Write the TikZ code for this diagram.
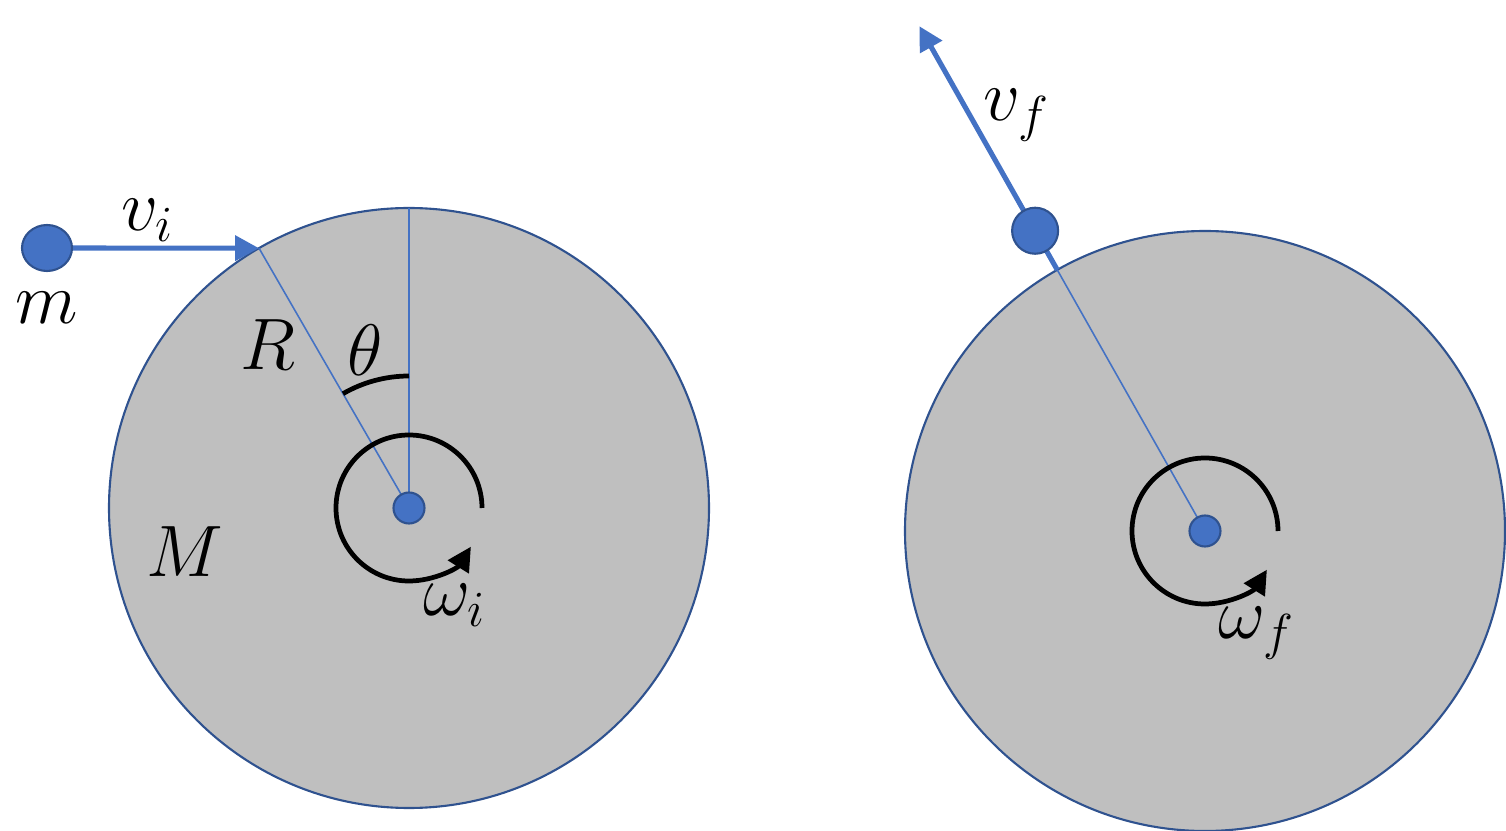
\documentclass[tikz,border=0pt]{standalone}
\usepackage{tikz}
\usetikzlibrary{shapes,arrows.meta,positioning,calc}
\definecolor{ballblue}{HTML}{4472C4}
\definecolor{rimblue}{HTML}{2F528F}
\definecolor{diskgray}{HTML}{BFBFBF}

\begin{document}
\begin{tikzpicture}[
  disk/.style={draw=rimblue, line width=0.6pt, fill=diskgray},
  ball/.style={circle, draw=rimblue, line width=0.6pt, fill=ballblue, inner sep=0pt},
  radius line/.style={draw=ballblue, line width=0.45pt},
  velocity/.style={draw=ballblue, line width=1.45pt, -{Triangle[length=6.8pt,width=7pt]}},
  spin/.style={line width=1.35pt, -{Triangle[length=6.8pt,width=6.8pt]}},
  lab/.style={draw=none, font=\fontsize{19.5}{23}\selectfont}
]
\useasboundingbox (0,0) rectangle (15.06,8.31);

% Initial state: disk M before the hit
\coordinate (C1) at (4.09,3.23);
\draw[disk] (C1) circle (3);
\coordinate (Pi) at ($(C1)+(120:3)$);
\coordinate (Top1) at ($(C1)+(90:3)$);
\draw[radius line] (C1) -- (Pi);
\draw[radius line] (C1) -- (Top1);

% Angle theta
\draw[line width=1.35pt] ($(C1)+(90:1.32)$) arc (90:120:1.32);

% Spin omega_i
\draw[spin] ($(C1)+(0:0.73)$) arc (0:328:0.73);
\node[ball, minimum size=0.31cm] (hub1) at (C1) {};

% Incoming mass m
\node[ellipse, draw=rimblue, line width=0.6pt, fill=ballblue, minimum width=0.5cm, minimum height=0.46cm, inner sep=0pt] (mi) at (0.47,5.83) {};
\draw[velocity] (mi) -- (Pi);

\node[lab] (vi) at (1.48,6.11) {$v_i$};
\node[lab] (mlab) at (0.47,5.23) {$m$};
\node[lab] (Rlab) at (2.68,4.86) {$R$};
\node[lab] (thlab) at (3.65,4.81) {$\theta$};
\node[lab] (Mlab) at (1.85,2.79) {$M$};
\node[lab] (wi) at (4.55,2.26) {$\omega_i$};

% Final state: mass leaves the rim
\coordinate (C2) at (12.05,3.00);
\draw[disk] (C2) circle (3);
\coordinate (Pf) at ($(C2)+(119.5:3)$);
\coordinate (Tf) at ($(C2)+(119.5:5.8)$);
\draw[radius line] (C2) -- (Pf);
\draw[velocity] (Pf) -- (Tf);
\node[ball, minimum size=0.46cm] (mf) at ($(C2)+(119.5:3.45)$) {};

% Spin omega_f
\draw[spin] ($(C2)+(0:0.73)$) arc (0:328:0.73);
\node[ball, minimum size=0.31cm] (hub2) at (C2) {};

\node[lab] (vf) at (10.17,7.16) {$v_f$};
\node[lab] (wf) at (12.57,1.98) {$\omega_f$};

\end{tikzpicture}
\end{document}
